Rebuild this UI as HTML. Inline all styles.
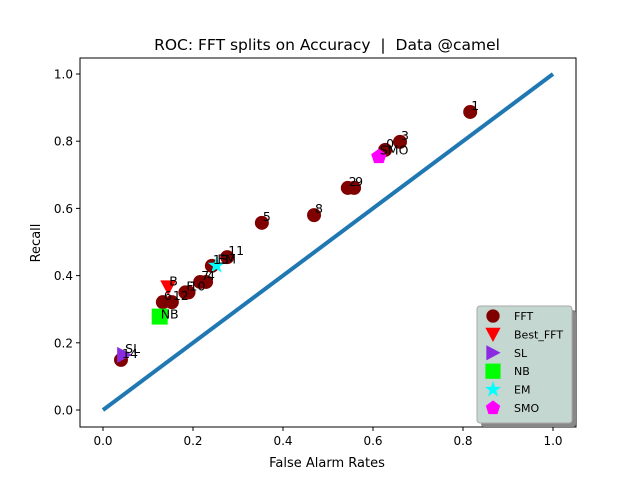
<!DOCTYPE html>
<html><head><meta charset="utf-8"><style>body{margin:0;background:#fff}svg{display:block;font-family:"DejaVu Sans","Liberation Sans",sans-serif}</style></head>
<body>
<svg id="c" width="640" height="480" xmlns="http://www.w3.org/2000/svg"></svg>
<script>
const fftLabels=["1","3","0","2","9","8","5","11","13","7","4","F","10","12","6","14"];
const fftX=[0.816,0.66,0.627,0.544,0.558,0.469,0.353,0.276,0.242,0.216,0.229,0.183,0.19,0.153,0.133,0.04];
const fftY=[0.887,0.798,0.774,0.661,0.661,0.58,0.557,0.455,0.429,0.381,0.381,0.35,0.35,0.321,0.321,0.149];
const otherNames=["B","NB","SL","EM","SMO"];
const otherX=[0.145,0.126,0.047,0.252,0.613];
const otherY=[0.365,0.278,0.164,0.43,0.754];
const xTicks=[0,0.2,0.4,0.6,0.8,1.0];
const yTicks=[0,0.2,0.4,0.6,0.8,1.0];
const xTickLabels=["0.0","0.2","0.4","0.6","0.8","1.0"];
const yTickLabels=["0.0","0.2","0.4","0.6","0.8","1.0"];
const X=v=>103+v*450, Y=v=>410-v*336;
const svg=document.getElementById('c'),NS="http://www.w3.org/2000/svg";
function mk(t,a,p){const e=document.createElementNS(NS,t);for(const k in a)e.setAttribute(k,a[k]);(p||svg).appendChild(e);return e;}
function txt(x,y,s,a){const e=mk('text',Object.assign({x:x,y:y,'font-size':12.5,fill:'#000'},a||{}));e.textContent=s;return e;}
let e=mk('rect',{x:80,y:58,width:496,height:369,fill:'none',stroke:'#000','stroke-width':1});


xTicks.forEach((t,i)=>{mk('line',{x1:X(t),x2:X(t),y1:427,y2:431,stroke:'#000'});
 e=txt(X(t),445,xTickLabels[i],{'text-anchor':'middle','font-size':12});
 
 });
yTicks.forEach((t,i)=>{mk('line',{x1:76,x2:80,y1:Y(t),y2:Y(t),stroke:'#000'});
 e=txt(73,Y(t)+4.5,yTickLabels[i],{'text-anchor':'end','font-size':12});
 
 });
e=txt(327,467,"False Alarm Rates",{'text-anchor':'middle','font-size':13});


e=txt(40,243,"Recall",{'text-anchor':'middle','font-size':13,transform:'rotate(-90 40 243)'});


e=txt(327,50,"ROC: FFT splits on Accuracy  |  Data @camel",{'text-anchor':'middle','font-size':15.5});


e.setAttribute('xml:space','preserve');e.style.whiteSpace='pre';
e=mk('line',{x1:X(0),y1:Y(0),x2:X(1),y2:Y(1),stroke:'#1f77b4','stroke-width':4});


function marker(kind,cx,cy,s,p){
 if(kind==='circle')return mk('circle',{cx:cx,cy:cy,r:7*s,fill:'#800000'},p);
 if(kind==='tri-down')return mk('polygon',{points:`${cx-8*s},${cy-7*s} ${cx+8*s},${cy-7*s} ${cx},${cy+8*s}`,fill:'#ff0000'},p);
 if(kind==='tri-right')return mk('polygon',{points:`${cx-7*s},${cy-8*s} ${cx-7*s},${cy+8*s} ${cx+8*s},${cy}`,fill:'#8a2be2'},p);
 if(kind==='square')return mk('rect',{x:cx-8*s,y:cy-8*s,width:16*s,height:16*s,fill:'#00ff00'},p);
 if(kind==='star'){let pts=[];for(let i=0;i<10;i++){const r=(i%2?3.5:9)*s,a=-Math.PI/2+i*Math.PI/5;pts.push((cx+r*Math.cos(a)).toFixed(1)+','+(cy+r*Math.sin(a)).toFixed(1));}return mk('polygon',{points:pts.join(' '),fill:'#00ffff'},p);}
 if(kind==='pent'){let pts=[];for(let i=0;i<5;i++){const a=-Math.PI/2+i*2*Math.PI/5;pts.push((cx+8*s*Math.cos(a)).toFixed(1)+','+(cy+8*s*Math.sin(a)).toFixed(1));}return mk('polygon',{points:pts.join(' '),fill:'#ff00ff'},p);}
}
fftX.forEach((v,i)=>{e=marker('circle',X(v),Y(fftY[i]),1);
 
 });
const kinds=["tri-down","square","tri-right","star","pent"];
otherX.forEach((v,i)=>{e=marker(kinds[i],X(v),Y(otherY[i]),1);
 
 });
fftX.forEach((v,i)=>{e=txt(X(v)+1,Y(fftY[i])-2,fftLabels[i]);
 
 });
otherX.forEach((v,i)=>{e=txt(X(v)+1,Y(otherY[i])-2+ (i===1?4:0),otherNames[i]);
 
 });
const lg=mk('g',{});


mk('rect',{x:481,y:310,width:95,height:117,fill:'#888',rx:3},lg);
mk('rect',{x:477,y:306,width:95,height:117,fill:'#c4d7d0',stroke:'#aaa',rx:3},lg);
const legNames=["FFT","Best_FFT","SL","NB","EM","SMO"];
const legKinds=["circle","tri-down","tri-right","square","star","pent"];
legNames.forEach((n,i)=>{const y=316+i*18.4;marker(legKinds[i],493,y,0.95,lg);
 e=txt(514,y+4,n,{'font-size':11},lg);
 
 });
</script>
</body></html>
